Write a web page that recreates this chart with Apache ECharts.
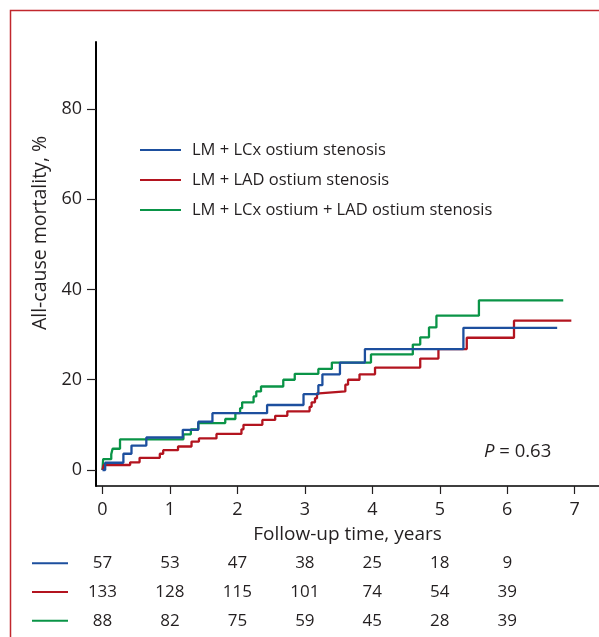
<!DOCTYPE html>
<html><head><meta charset="utf-8">
<script src="https://cdn.jsdelivr.net/npm/echarts@6/dist/echarts.min.js"></script>
<style>html,body{margin:0;padding:0;background:#fff}#c{width:599px;height:637px}</style>
</head><body><div id="c"></div>
<script>
const seriesNames = ['LM + LCx ostium stenosis', 'LM + LAD ostium stenosis', 'LM + LCx ostium + LAD ostium stenosis'];
const seriesKeys = ['b', 'r', 'g'];
const colors = ['#1d4f9e', '#b3141f', '#0a9447'];
const blueData = [[0,0],[0.04,1.6],[0.31,3.6],[0.43,5.4],[0.65,7.2],[1.19,8.9],[1.42,10.7],[1.63,12.6],[2.44,14.4],[2.98,16.8],[3.20,18.8],[3.26,21.2],[3.52,23.8],[3.89,26.8],[5.35,31.5],[6.74,31.5]];
const redData = [[0,0],[0.02,1.1],[0.41,1.7],[0.55,2.7],[0.85,3.6],[0.90,4.4],[1.12,5.2],[1.32,6.3],[1.43,7.0],[1.69,8.0],[2.06,9.0],[2.09,10.0],[2.37,11.1],[2.56,12.0],[2.74,13.0],[3.07,14.0],[3.10,15.0],[3.15,15.9],[3.18,17.0],[3.21,17.4],[3.60,18.9],[3.64,20.0],[3.81,21.2],[4.04,22.7],[4.71,24.7],[4.98,26.8],[5.40,29.3],[6.10,33.1],[6.95,33.1]];
const greenData = [[0,0],[0.01,2.4],[0.13,3.5],[0.15,4.7],[0.26,6.8],[1.20,7.9],[1.31,9.0],[1.42,10.4],[1.82,11.3],[1.97,12.6],[2.04,13.7],[2.07,15.0],[2.24,16.3],[2.28,17.4],[2.35,18.5],[2.68,20.0],[2.85,21.3],[3.20,22.4],[3.40,23.8],[3.98,25.6],[4.60,27.8],[4.71,29.4],[4.84,31.6],[4.95,34.2],[5.58,37.6],[6.83,37.6]];
const xTicks = [0,1,2,3,4,5,6,7];
const yTicks = [0,20,40,60,80];
const riskTimes = [0,1,2,3,4,5,6];
const riskBlue = [57,53,47,38,25,18,9];
const riskRed = [133,128,115,101,74,54,39];
const riskGreen = [88,82,75,59,45,28,39];
const xName = 'Follow-up time, years';
const yName = 'All-cause mortality, %';
const pValue = '0.63';

const FONT = 'Open Sans';
const TXT = '#231f20';
const allData = [blueData, redData, greenData];
const riskRows = [riskBlue, riskRed, riskGreen];

const lineSeries = allData.map((d, i) => ({
  name: seriesNames[i], type: 'line', step: 'end', data: d,
  xAxisIndex: 0, yAxisIndex: 0,
  symbol: 'none', lineStyle: { color: colors[i], width: 2.3 }, itemStyle: { color: colors[i] },
  z: 3 + (2 - i)
}));
const riskSeries = riskRows.map((row, i) => ({
  name: 'risk' + i, type: 'scatter', xAxisIndex: 1, yAxisIndex: 1,
  symbolSize: 1, itemStyle: { color: 'rgba(0,0,0,0)', opacity: 1 }, silent: true,
  data: row.map((n, k) => [riskTimes[k], i, n]),
  label: { show: true, position: 'inside', formatter: p => String(p.value[2]),
    fontFamily: FONT, fontSize: 17, color: TXT, opacity: 1 }
}));
const rich = {};
seriesKeys.forEach((k, i) => { rich[k] = { width: 36, height: 2, backgroundColor: colors[i] }; });

const chart = echarts.init(document.getElementById('c'), null, { renderer: 'canvas' });
chart.setOption({
  animation: false,
  backgroundColor: '#fff',
  grid: [
    { left: 96, right: 0, top: 42, bottom: 151 },
    { left: 96, right: 0, top: 549, height: 86 }
  ],
  legend: {
    data: seriesNames, orient: 'vertical', left: 140, top: 140, padding: 0,
    icon: 'rect', itemWidth: 41, itemHeight: 2, itemGap: 10,
    textStyle: { fontFamily: FONT, fontSize: 16.5, color: TXT, lineHeight: 20, padding: [0, 0, 0, 6] },
    selectedMode: false
  },
  xAxis: [
    { type: 'value', gridIndex: 0, min: -0.096, max: 7.36,
      axisLine: { show: true, onZero: false, lineStyle: { color: '#000', width: 1.5 } },
      axisTick: { show: true, customValues: xTicks, length: 8, lineStyle: { color: TXT, width: 1.2 } },
      axisLabel: { customValues: xTicks, fontFamily: FONT, fontSize: 18, color: TXT, margin: 15 },
      splitLine: { show: false },
      name: xName, nameLocation: 'middle', nameGap: 39,
      nameTextStyle: { fontFamily: FONT, fontSize: 19, color: TXT } },
    { type: 'value', gridIndex: 1, min: -0.096, max: 7.36, show: false }
  ],
  yAxis: [
    { type: 'value', gridIndex: 0, min: -3.55, max: 94.85,
      axisLine: { show: true, onZero: false, lineStyle: { color: '#000', width: 2 } },
      axisTick: { show: true, customValues: yTicks, length: 9, lineStyle: { color: TXT, width: 1.2 } },
      axisLabel: { customValues: yTicks, fontFamily: FONT, fontSize: 18, color: TXT, margin: 14 },
      splitLine: { show: false } },
    { type: 'category', gridIndex: 1, data: seriesKeys, inverse: true,
      axisLine: { show: false }, axisTick: { show: false }, splitLine: { show: false },
      axisLabel: { margin: 28, formatter: v => '{' + v + '|}', rich: rich } }
  ],
  graphic: [
    { type: 'rect', shape: { x: 10.5, y: 10.5, width: 700, height: 700 },
      style: { fill: 'none', stroke: '#c1272d', lineWidth: 1.5 }, z: -10, silent: true },
    { type: 'text', x: 40, y: 233, rotation: Math.PI / 2,
      style: { text: yName, fontFamily: FONT, fontSize: 19.5, fill: TXT, align: 'center', verticalAlign: 'middle' } },
    { type: 'text', x: 484, y: 452,
      style: { text: '{i|P} = ' + pValue, fontFamily: FONT, fontSize: 18.5, fill: TXT, verticalAlign: 'middle',
        rich: { i: { fontStyle: 'italic', fontFamily: FONT, fontSize: 18.5, fill: TXT } } } }
  ],
  series: lineSeries.concat(riskSeries)
});
</script></body></html>
